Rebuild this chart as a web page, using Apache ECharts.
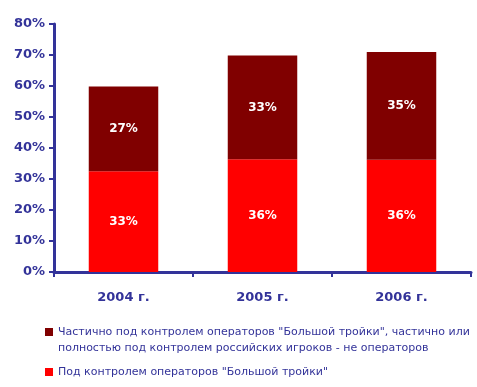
<!DOCTYPE html>
<html><head><meta charset="utf-8">
<script src="https://cdn.jsdelivr.net/npm/echarts@6/dist/echarts.min.js"></script>
<style>html,body{margin:0;padding:0;background:#fff}#c{width:477px;height:387px}</style>
</head><body><div id="c"></div>
<script>
const categories = ['2004 г.', '2005 г.', '2006 г.'];
const bigThree = [32.5, 36.4, 36.2];
const mixed = [27.3, 33.4, 34.8];
const yTicks = [0, 10, 20, 30, 40, 50, 60, 70, 80];
const nameMixed = 'Частично под контролем операторов "Большой тройки", частично или';
const nameMixedCont = 'полностью под контролем российских игроков - не операторов';
const nameBig = 'Под контролем операторов "Большой тройки"';

const axisColor = '#333399';
const chart = echarts.init(document.getElementById('c'));
const lbl = {
  show: true, position: 'inside', color: '#fff', fontWeight: 'bold',
  fontFamily: 'DejaVu Sans', fontSize: 12,
  formatter: p => Math.round(p.value) + '%'
};
const legendText = {color: axisColor, fontFamily: 'DejaVu Sans', fontSize: 11, lineHeight: 14};
chart.setOption({
  animation: false,
  grid: {left: 54, right: 6, top: 24, bottom: 115},
  xAxis: {
    type: 'category', data: categories,
    axisLine: {lineStyle: {color: axisColor, width: 3}},
    axisTick: {show: true, length: 5, lineStyle: {color: axisColor, width: 2}},
    axisLabel: {color: axisColor, fontWeight: 'bold', fontFamily: 'DejaVu Sans', fontSize: 13, margin: 19}
  },
  yAxis: {
    type: 'value', min: yTicks[0], max: yTicks[yTicks.length - 1], interval: 10,
    axisLine: {show: true, lineStyle: {color: axisColor, width: 3}},
    axisTick: {show: true, length: 5, lineStyle: {color: axisColor, width: 2}},
    splitLine: {show: false},
    axisLabel: {color: axisColor, fontWeight: 'bold', fontFamily: 'DejaVu Sans', fontSize: 13, margin: 9, formatter: '{value}%'}
  },
  legend: [
    {orient: 'vertical', left: 40, top: 320, itemWidth: 8, itemHeight: 8, itemGap: 0, data: [nameMixed], textStyle: legendText, icon: 'rect'},
    {orient: 'vertical', left: 40, top: 360, itemWidth: 8, itemHeight: 8, itemGap: 0, data: [nameBig], textStyle: legendText, icon: 'rect'}
  ],
  graphic: [{
    type: 'text', left: 58, top: 343,
    style: {text: nameMixedCont, fill: axisColor, font: '11px "DejaVu Sans"'}
  }],
  series: [
    {name: nameBig, type: 'bar', stack: 's', data: bigThree, barWidth: '50%', itemStyle: {color: '#ff0000'}, label: lbl},
    {name: nameMixed, type: 'bar', stack: 's', data: mixed, barWidth: '50%', itemStyle: {color: '#800000'}, label: lbl}
  ]
});
</script></body></html>
